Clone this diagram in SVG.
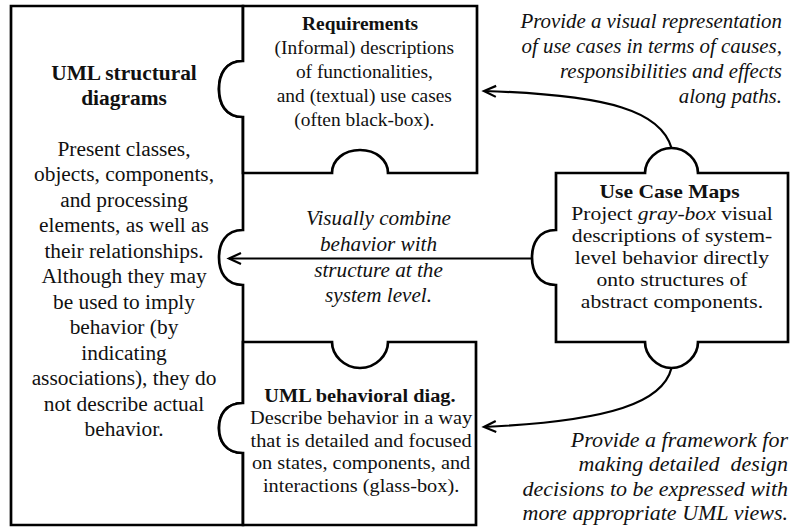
<svg xmlns="http://www.w3.org/2000/svg" width="790" height="528" viewBox="0 0 790 528">
<style>
.piece{fill:#fff;stroke:#000;stroke-width:2.7;stroke-linejoin:miter}
.conn{fill:none;stroke:#000;stroke-width:2.2}
text{font-family:"Liberation Serif","Times New Roman",serif;fill:#111}
.b{font-weight:bold}
.i{font-style:italic}
.c{text-anchor:middle}
.e{text-anchor:end}
</style>
<defs>
<marker id="arr" markerUnits="userSpaceOnUse" markerWidth="16" markerHeight="14" refX="0" refY="0" viewBox="-15 -7 16 14" orient="auto" overflow="visible">
<path d="M-12,-5.5 L0,0 L-12,5.5" fill="none" stroke="#000" stroke-width="2.2"/>
</marker>
</defs>
<rect width="790" height="528" fill="#fff"/>

<g id="uml-structural">
<path class="piece" d="M11,6 H243 V61 C225,61 219,75 219,89 C219,103 225,117 243,117 V230 C225,230 219,244 219,257.5 C219,271 225,285 243,285 V403 C225,403 219,416 219,428 C219,440 225,453 243,453 V525 H11 Z"/>
<g transform="scale(1.07 1)">
<text class="b c" x="115.9" y="80" font-size="20">UML structural</text>
<text class="b c" x="115.9" y="105" font-size="20">diagrams</text>
<text class="c" x="115.9" font-size="20"><tspan x="115.9" y="156">Present classes,</tspan><tspan x="115.9" y="181.5">objects, components,</tspan><tspan x="115.9" y="207">and processing</tspan><tspan x="115.9" y="232.5">elements, as well as</tspan><tspan x="115.9" y="258">their relationships.</tspan><tspan x="115.9" y="283.5">Although they may</tspan><tspan x="115.9" y="309">be used to imply</tspan><tspan x="115.9" y="334.5">behavior (by</tspan><tspan x="115.9" y="360">indicating</tspan><tspan x="115.9" y="385.5">associations), they do</tspan><tspan x="115.9" y="411">not describe actual</tspan><tspan x="115.9" y="436.5">behavior.</tspan></text>
</g>
</g>

<g id="requirements">
<path class="piece" d="M243,6 H477 V173 H388 C388,160 376,150 360,150 C344,150 332,160 332,173 H243 V117 C225,117 219,103 219,89 C219,75 225,61 243,61 Z"/>
<g transform="scale(1.05 1)">
<text class="b c" x="343" y="30.5" font-size="18.5">Requirements</text>
<text class="c" font-size="18.5"><tspan x="347" y="54.3">(Informal) descriptions</tspan><tspan x="347" y="78">of functionalities,</tspan><tspan x="347" y="101.8">and (textual) use cases</tspan><tspan x="347" y="125.6">(often black-box).</tspan></text>
</g>
</g>

<g id="uml-behavioral">
<path class="piece" d="M243,342 H332 C332,355 344,368 360,368 C376,368 388,355 388,342 H476 V525 H243 V453 C225,453 219,440 219,428 C219,416 225,403 243,403 Z"/>
<g transform="scale(1.07 1)">
<text class="b c" x="336.4" y="402" font-size="19">UML behavioral diag.</text>
<text class="c" font-size="19"><tspan x="337.5" y="424.5">Describe behavior in a way</tspan><tspan x="337.5" y="447">that is detailed and focused</tspan><tspan x="337.5" y="469.5">on states, components, and</tspan><tspan x="337.5" y="492">interactions (glass-box).</tspan></text>
</g>
</g>

<g id="use-case-maps">
<path class="piece" d="M556,173 H645 C645,160 657,148 671.5,148 C686,148 698,160 698,173 H788 V342 H698 C698,355 686,368 671.5,368 C657,368 645,355 645,342 H556 V285 C538,285 532,271 532,257.5 C532,244 538,230 556,230 Z"/>
<g transform="scale(1.2 1)">
<text class="b c" x="558" y="198" font-size="18">Use Case Maps</text>
<text class="c" font-size="18"><tspan x="560" y="220">Project <tspan class="i">gray-box</tspan> visual</tspan><tspan x="560" y="242">descriptions of system-</tspan><tspan x="560" y="264">level behavior directly</tspan><tspan x="560" y="286">onto structures of</tspan><tspan x="560" y="308">abstract components.</tspan></text>
</g>
</g>

<g id="connectors">
<path class="conn" d="M671.5,148 C661,112 612,95 484,91" marker-end="url(#arr)"/>
<path class="conn" d="M532,258.5 H229" marker-end="url(#arr)"/>
<path class="conn" d="M671.5,368 C663,402 612,421 484,427" marker-end="url(#arr)"/>
<g transform="scale(1.045 1)">
<text class="i e" font-size="20"><tspan x="748.3" y="28.5">Provide a visual representation</tspan><tspan x="748.3" y="53.5">of use cases in terms of causes,</tspan><tspan x="748.3" y="78.5">responsibilities and effects</tspan><tspan x="748.3" y="103.5">along paths.</tspan></text>
</g>
<g transform="scale(1.06 1)">
<text class="i c" font-size="20"><tspan x="357.1" y="225">Visually combine</tspan><tspan x="357.1" y="251">behavior with</tspan><tspan x="357.1" y="277">structure at the</tspan><tspan x="357.1" y="302.5">system level.</tspan></text>
</g>
<g transform="scale(1.1 1)">
<text class="i e" font-size="20" xml:space="preserve"><tspan x="716.4" y="447">Provide a framework for</tspan><tspan x="716.4" y="471.5">making detailed  design</tspan><tspan x="716.4" y="496">decisions to be expressed with</tspan><tspan x="716.4" y="520.5">more appropriate UML views.</tspan></text>
</g>
</g>
</svg>
